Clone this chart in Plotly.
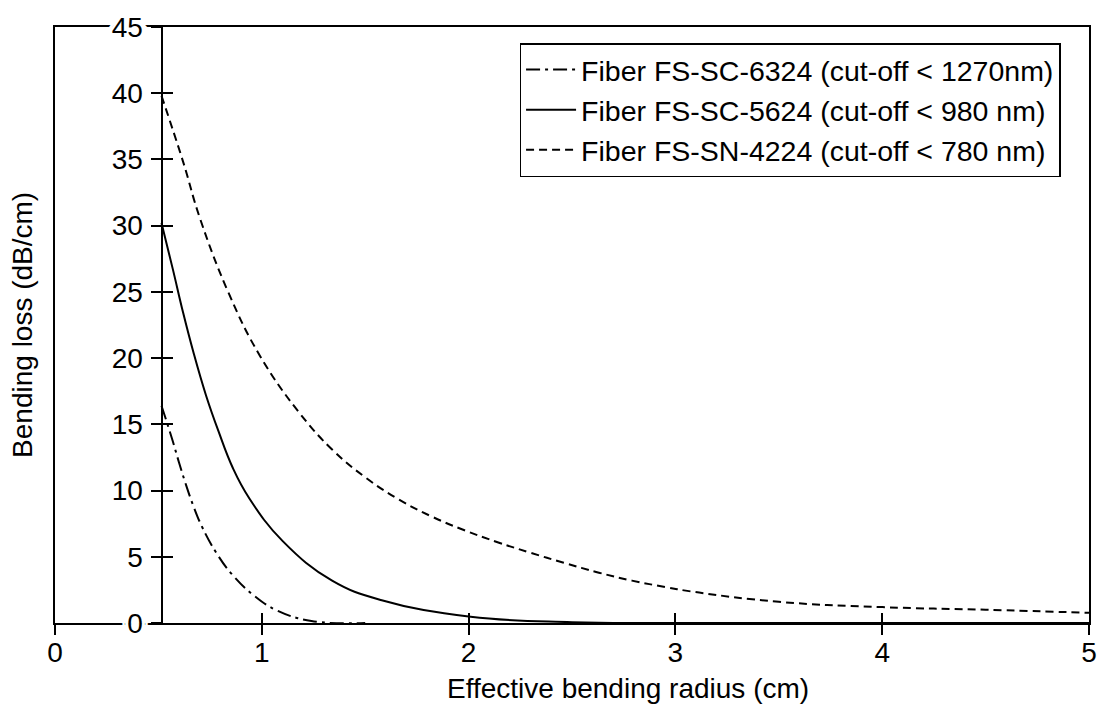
import plotly.graph_objects as go

# ---- data ----
sn4224_x = [0.515, 0.62, 0.70, 0.84, 0.99, 1.18, 1.34, 1.50, 1.66, 1.82, 1.98, 2.14, 2.30, 2.46,
            2.63, 2.79, 2.95, 3.09, 3.5, 4.0, 4.5, 5.0]
sn4224_y = [39.8, 34.8, 30.6, 24.9, 20.2, 15.9, 13.1, 11.0, 9.35, 8.05, 7.0, 6.1, 5.3, 4.55,
            3.8, 3.2, 2.72, 2.35, 1.6, 1.2, 1.0, 0.77]

sc5624_x = [0.515, 0.57, 0.62, 0.67, 0.73, 0.79, 0.86, 0.94, 1.10, 1.34, 1.58, 2.01, 2.5, 3.0, 5.0]
sc5624_y = [30.2, 26.7, 23.4, 20.4, 17.2, 14.5, 11.7, 9.4, 6.2, 3.2, 1.72, 0.47, 0.06, 0.0, 0.0]

sc6324_x = [0.515, 0.54, 0.57, 0.60, 0.63, 0.67, 0.71, 0.78, 0.86, 0.96, 1.07, 1.24, 1.5]
sc6324_y = [16.4, 15.2, 13.7, 12.1, 10.6, 8.8, 7.3, 5.3, 3.6, 2.1, 0.97, 0.15, 0.0]

names = [
    "Fiber FS-SC-6324 (cut-off < 1270nm)",
    "Fiber FS-SC-5624 (cut-off < 980 nm)",
    "Fiber FS-SN-4224 (cut-off < 780 nm)",
]
x_ticks = [0, 1, 2, 3, 4, 5]
y_ticks = [0, 5, 10, 15, 20, 25, 30, 35, 40, 45]
x_title = "Effective bending radius (cm)"
y_title = "Bending loss (dB/cm)"
y_axis_at = 0.515  # x value where the drawn y axis sits

FONT = "Liberation Sans, Arial, Helvetica, sans-serif"
SHADOW = ("3px 0 0 white, -3px 0 0 white, 0 3px 0 white, 0 -3px 0 white, "
          "3px 3px 0 white, -3px -3px 0 white, 3px -3px 0 white, -3px 3px 0 white, "
          "6px 0 0 white, -6px 0 0 white")

fig = go.Figure()
fig.add_trace(go.Scatter(x=sc6324_x, y=sc6324_y, mode="lines", name=names[0], legendgroup="a",
                         line=dict(color="black", width=2, dash="14px,5px,3px,5px",
                                   shape="spline", smoothing=1.2)))
fig.add_trace(go.Scatter(x=sc5624_x, y=sc5624_y, mode="lines", name=names[1], legendgroup="b",
                         line=dict(color="black", width=2, shape="spline", smoothing=1.2)))
fig.add_trace(go.Scatter(x=sn4224_x, y=sn4224_y, mode="lines", name=names[2], legendgroup="c",
                         line=dict(color="black", width=2, dash="8px,5px",
                                   shape="spline", smoothing=1.2)))

# dummy traces so auxiliary axes are drawn
fig.add_trace(go.Scatter(x=[None], y=[None], xaxis="x", yaxis="y2", showlegend=False, hoverinfo="skip"))
fig.add_trace(go.Scatter(x=[None], y=[None], xaxis="x", yaxis="y3", showlegend=False, hoverinfo="skip"))
fig.add_trace(go.Scatter(x=[None], y=[None], xaxis="x2", yaxis="y", showlegend=False, hoverinfo="skip"))

fig.update_layout(
    width=1109, height=728,
    margin=dict(l=55, r=16, t=22, b=105),
    paper_bgcolor="white", plot_bgcolor="white",
    font=dict(family=FONT, size=28, color="black"),
    showlegend=True,
    legend=dict(x=0.9725, xanchor="right", y=0.973, yanchor="top",
                bordercolor="black", borderwidth=1.5, bgcolor="white",
                font=dict(family=FONT, size=28.5, color="black"),
                tracegroupgap=0, itemwidth=50),
    xaxis=dict(range=[0, 5], tickvals=x_ticks, ticks="outside", ticklen=10, tickwidth=2,
               tickcolor="black", showline=True, linewidth=2, linecolor="black", mirror=True,
               showgrid=False, zeroline=False, tickfont=dict(family=FONT, size=28),
               ticklabelstandoff=-7),
    xaxis2=dict(range=[0, 5], overlaying="x", anchor="y", tickvals=x_ticks, ticks="inside",
                ticklen=10, tickwidth=2, tickcolor="black", showticklabels=False,
                showline=False, showgrid=False, zeroline=False),
    yaxis=dict(range=[0, 45], showline=True, linewidth=2, linecolor="black", mirror=True,
               ticks="", showticklabels=False, showgrid=False, zeroline=False),
    yaxis2=dict(range=[0, 45], overlaying="y", anchor="free", position=y_axis_at / 5, side="left",
                tickvals=y_ticks, ticks="outside", ticklen=10, tickwidth=2, tickcolor="black",
                showline=True, linewidth=2, linecolor="black", showgrid=False, zeroline=False,
                tickfont=dict(family=FONT, size=28, shadow=SHADOW), ticklabelstandoff=2),
    yaxis3=dict(range=[0, 45], overlaying="y", anchor="free", position=y_axis_at / 5, side="left",
                tickvals=y_ticks, ticks="inside", ticklen=10, tickwidth=2, tickcolor="black",
                showticklabels=False, showline=False, showgrid=False, zeroline=False),
    annotations=[
        dict(text=x_title, xref="paper", yref="paper", x=0.554, y=-0.11,
             xanchor="center", yanchor="middle", showarrow=False,
             font=dict(family=FONT, size=28, color="black")),
        dict(text=y_title, xref="paper", yref="paper", x=-0.032, y=0.5, textangle=-90,
             xanchor="center", yanchor="middle", showarrow=False,
             font=dict(family=FONT, size=28, color="black")),
    ],
)

fig.write_html("out.html", config={"displayModeBar": False},
               post_script="document.body.style.margin='0px';")
